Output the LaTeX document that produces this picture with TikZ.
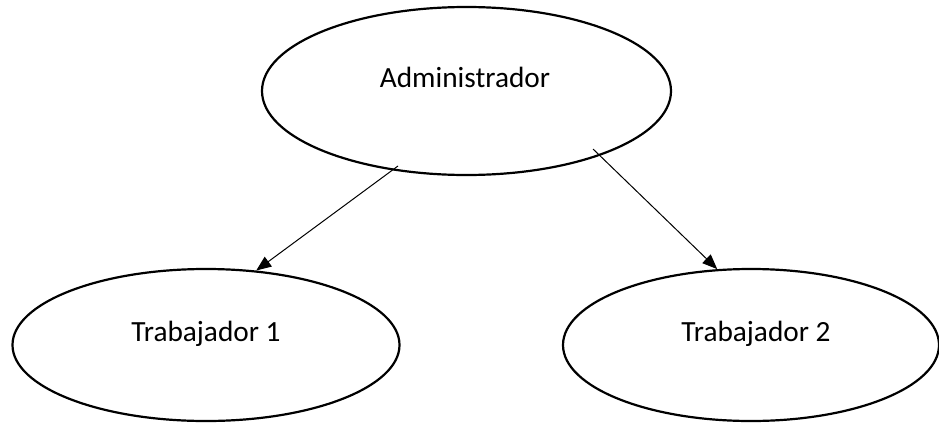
\documentclass[tikz,border=0pt]{standalone}
\usepackage{fontspec}
\setmainfont{Carlito}
\usetikzlibrary{shapes.geometric,arrows.meta}
\begin{document}
\begin{tikzpicture}[x=1pt,y=-1pt,
  ell/.style={draw=black,line width=2.2pt,ellipse,inner sep=0pt,fill=none},
  lbl/.style={font=\fontsize{29.3}{33}\selectfont,anchor=base,inner sep=0pt},
  conn/.style={line width=1pt,-{Triangle[length=15pt,width=12pt]}}]
\useasboundingbox (0,0) rectangle (939,423);
\node[ell,minimum width=409pt,minimum height=168pt] (adm) at (466.5,91) {};
\node[ell,minimum width=387pt,minimum height=152pt] (t1) at (206,345) {};
\node[ell,minimum width=376pt,minimum height=152pt] (t2) at (751,345) {};
\node[lbl] (adml) at (465,87) {Administrador};
\node[lbl] (t1l) at (206,341) {Trabajador 1};
\node[lbl] (t2l) at (756,341) {Trabajador 2};
\coordinate (s1) at (398,166);
\coordinate (s2) at (593,149);
\draw[conn] (s1) -- (t1.56);
\draw[conn] (s2) -- (t2.114);
\end{tikzpicture}
\end{document}
